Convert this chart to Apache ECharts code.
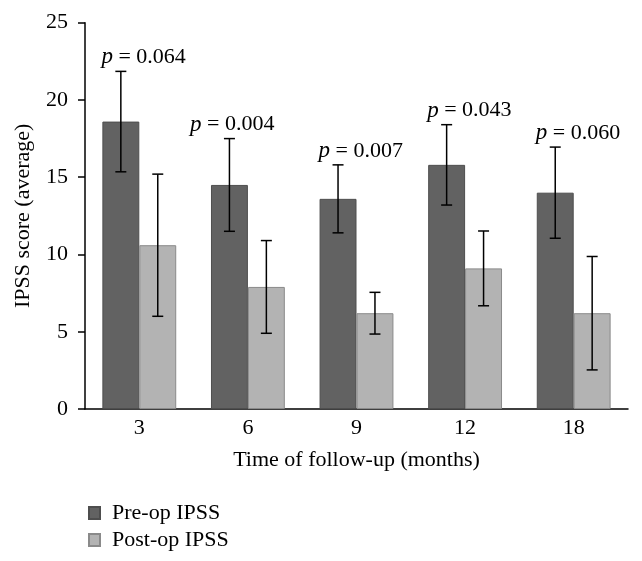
<!DOCTYPE html>
<html>
<head>
<meta charset="utf-8">
<script src="https://cdn.jsdelivr.net/npm/echarts@6/dist/echarts.min.js"></script>
<style>html,body{margin:0;padding:0;background:#fff;}#c{width:642px;height:561px;}</style>
</head>
<body>
<div id="c"></div>
<script>
var categories = ['3', '6', '9', '12', '18'];
var preOp = [18.6, 14.5, 13.6, 15.8, 14.0];
var preOpErr = [3.25, 3.0, 2.2, 2.6, 2.95];
var postOp = [10.6, 7.9, 6.2, 9.1, 6.2];
var postOpErr = [4.6, 3.0, 1.35, 2.42, 3.67];
var pValues = ['0.064', '0.004', '0.007', '0.043', '0.060'];
var yTicks = [0, 5, 10, 15, 20, 25];

var FONT = '"Liberation Serif", "DejaVu Serif", serif';
var FS = 22;
var chart = echarts.init(document.getElementById('c'));

var errData = categories.map(function (c, i) {
  return [i, preOp[i] - preOpErr[i], preOp[i] + preOpErr[i], postOp[i] - postOpErr[i], postOp[i] + postOpErr[i]];
});
var labelData = categories.map(function (c, i) { return [i, preOp[i] + preOpErr[i]]; });
var labelNudge = [0, -20, 0, 0, 0];

function errRender(params, api) {
  var i = api.value(0);
  var band = api.size([1, 0])[0];
  var c = api.coord([i, 0]);
  var children = [];
  var offs = [-0.17 * band, 0.17 * band];
  var lows = [api.value(1), api.value(3)];
  var highs = [api.value(2), api.value(4)];
  var cap = 5.5;
  var st = { stroke: '#000', lineWidth: 1.5 };
  for (var k = 0; k < 2; k++) {
    var x = c[0] + offs[k];
    var yl = api.coord([i, lows[k]])[1];
    var yh = api.coord([i, highs[k]])[1];
    children.push({ type: 'line', shape: { x1: x, y1: yl, x2: x, y2: yh }, style: st });
    children.push({ type: 'line', shape: { x1: x - cap, y1: yl, x2: x + cap, y2: yl }, style: st });
    children.push({ type: 'line', shape: { x1: x - cap, y1: yh, x2: x + cap, y2: yh }, style: st });
  }
  return { type: 'group', children: children };
}

function labelRender(params, api) {
  var i = api.value(0);
  var band = api.size([1, 0])[0];
  var c = api.coord([i, api.value(1)]);
  var x = c[0] - 0.34 * band + labelNudge[params.dataIndex] - 1;
  return {
    type: 'text',
    x: x,
    y: c[1] - 14,
    style: {
      text: '{i|p}{n| = ' + pValues[params.dataIndex] + '}',
      align: 'left',
      verticalAlign: 'middle',
      rich: {
        i: { fontFamily: FONT, fontStyle: 'italic', fontSize: 23, fill: '#000' },
        n: { fontFamily: FONT, fontSize: FS, fill: '#000' }
      }
    }
  };
}

chart.setOption({
  animation: false,
  backgroundColor: '#fff',
  grid: { left: 85, right: 14, top: 22.7, bottom: 152 },
  legend: {
    orient: 'vertical',
    left: 83,
    top: 497,
    itemWidth: 11,
    itemHeight: 12,
    itemGap: 5,
    icon: 'rect',
    textStyle: { fontFamily: FONT, fontSize: FS, color: '#000', padding: [0, 0, 0, 7] },
    data: ['Pre-op IPSS', 'Post-op IPSS']
  },
  xAxis: {
    type: 'category',
    data: categories,
    name: 'Time of follow-up (months)',
    nameLocation: 'middle',
    nameGap: 40,
    nameTextStyle: { fontFamily: FONT, fontSize: FS, color: '#000' },
    axisLine: { lineStyle: { color: '#000', width: 1.5 } },
    axisTick: { show: false },
    axisLabel: { fontFamily: FONT, fontSize: FS, color: '#000', margin: 8 }
  },
  yAxis: {
    type: 'value',
    min: 0,
    max: 25,
    interval: 5,
    name: 'IPSS score (average)',
    nameLocation: 'middle',
    nameGap: 51,
    nameTextStyle: { fontFamily: FONT, fontSize: FS, color: '#000' },
    axisLine: { show: true, lineStyle: { color: '#000', width: 1.5 } },
    axisTick: { show: true, inside: false, length: 7, lineStyle: { color: '#000', width: 1.5 } },
    axisLabel: {
      fontFamily: FONT, fontSize: FS, color: '#000', margin: 17,
      formatter: function (v) { return yTicks.indexOf(v) >= 0 ? String(v) : ''; }
    },
    splitLine: { show: false }
  },
  series: [
    {
      name: 'Pre-op IPSS', type: 'bar', data: preOp,
      barGap: '0%', barCategoryGap: '32%',
      itemStyle: { color: '#626262', borderColor: '#4e4e4e', borderWidth: 1 }
    },
    {
      name: 'Post-op IPSS', type: 'bar', data: postOp,
      itemStyle: { color: '#b3b3b3', borderColor: '#8a8a8a', borderWidth: 1 }
    },
    {
      type: 'custom', renderItem: errRender, data: errData, z: 10,
      encode: { x: 0, y: [1, 2, 3, 4] }
    },
    {
      type: 'custom', renderItem: labelRender, data: labelData, z: 11,
      encode: { x: 0, y: 1 }
    }
  ]
});
</script>
</body>
</html>
